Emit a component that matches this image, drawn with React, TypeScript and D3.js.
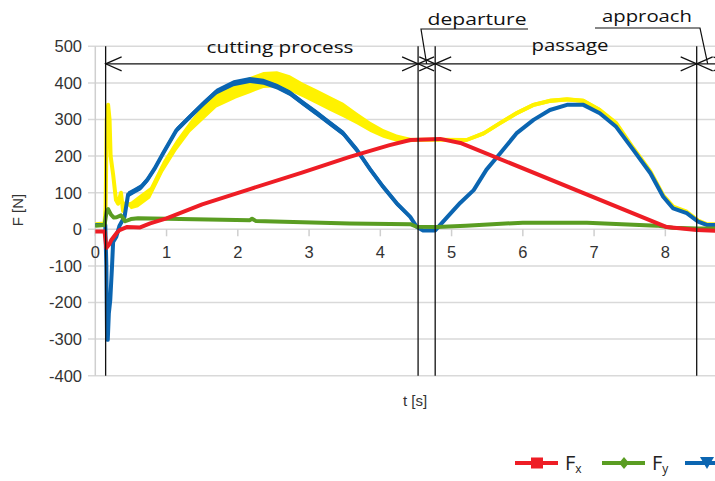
import React from 'react';
import * as d3 from 'd3';

// ---- data ----
const fxT = [0, 0.13, 0.155, 0.2, 0.225, 0.3, 0.34, 0.44, 0.63, 0.77, 1.0, 1.5, 2.17, 2.9, 3.57, 4.13, 4.42, 4.84, 5.14, 8.02, 8.44, 8.9];
const fxV = [-6, -6, -51, -40, -29, -10, -2, 6, 5, 16, 30, 68, 110, 155, 198, 230, 244, 247, 235, 6, -2, -6];

const fyT = [0, 0.13, 0.16, 0.18, 0.22, 0.26, 0.3, 0.36, 0.42, 0.5, 0.6, 1.0, 2.17, 2.2, 2.25, 3.57, 4.42, 4.51, 4.8, 5.2, 6.0, 6.9, 7.88, 8.1, 8.44, 8.9];
const fyV = [10, 12, 50, 55, 40, 32, 33, 38, 22, 28, 30, 29, 25, 29, 23, 16, 14, 7, 6, 10, 18, 18, 10, 4, 2, 2];

const fzT = [0, 0.14, 0.155, 0.165, 0.175, 0.19, 0.21, 0.235, 0.25, 0.295, 0.34, 0.41, 0.46, 0.55, 0.64, 0.73, 0.83, 0.95, 1.14, 1.33, 1.52, 1.70, 1.94, 2.17, 2.36, 2.55, 2.73, 2.92, 3.11, 3.29, 3.48, 3.67, 3.86, 4.04, 4.23, 4.42, 4.51, 4.6, 4.77, 4.84, 5.12, 5.31, 5.49, 5.68, 5.91, 6.15, 6.38, 6.62, 6.85, 7.08, 7.31, 7.55, 7.79, 7.97, 8.11, 8.30, 8.46, 8.58, 8.9];
const fzV = [12, 12, -100, -302, -302, -230, -193, -100, -35, -20, 10, 34, 95, 105, 115, 135, 165, 207, 271, 308, 344, 376, 399, 408, 403, 390, 372, 344, 317, 290, 262, 217, 163, 116, 71, 34, 7, -3, -3, 12, 72, 107, 163, 207, 262, 299, 326, 340, 340, 317, 280, 217, 153, 89, 57, 44, 21, 12, 12];
const fzNoise = [0, 0, 0, 0, 0, 0, 0, 0, 0, 4, 4, 6, 8, 8, 8, 8, 8, 8, 8, 8, 8, 8, 8, 8, 8, 8, 8, 8, 8, 8, 8, 8, 8, 8, 7, 5, 3, 0, 0, 0, 2, 2, 2, 2, 2, 2, 2, 2, 2, 2, 2, 2, 2, 2, 2, 2, 2, 2, 2];

const fT = [0, 0.13, 0.145, 0.16, 0.18, 0.2, 0.215, 0.25, 0.29, 0.32, 0.36, 0.39, 0.43, 0.5, 0.6, 0.77, 0.95, 1.14, 1.33, 1.52, 1.70, 1.98, 2.17, 2.36, 2.55, 2.73, 2.92, 3.11, 3.29, 3.48, 3.67, 3.86, 4.04, 4.23, 4.42, 4.6, 4.84, 5.21, 5.45, 5.68, 5.91, 6.15, 6.38, 6.62, 6.85, 7.08, 7.31, 7.55, 7.79, 7.97, 8.11, 8.30, 8.46, 8.58, 8.9];
const fV = [14, 16, 60, 300, 340, 300, 200, 150, 80, 70, 100, 50, 72, 65, 75, 100, 171, 230, 280, 320, 353, 380, 394, 408, 410, 399, 380, 362, 344, 326, 303, 280, 262, 249, 244, 245, 245, 244, 262, 290, 317, 340, 351, 355, 351, 326, 290, 222, 158, 93, 62, 48, 24, 14, 13];
const fNoise = [0, 0, 0, 0, 0, 0, 0, 0, 0, 0, 0, 0, 0, 10, 15, 15, 15, 15, 15, 20, 20, 22, 22, 22, 22, 22, 20, 20, 20, 20, 16, 14, 12, 10, 6, 3, 3, 5, 6, 6, 6, 6, 6, 6, 6, 6, 5, 4, 4, 4, 4, 3, 2, 2, 2];

const xTicks = [0, 1, 2, 3, 4, 5, 6, 7, 8];
const yTicks = [-400, -300, -200, -100, 0, 100, 200, 300, 400, 500];

const phaseLabels = ['cutting process', 'departure', 'passage', 'approach'];
const phaseBounds = [0.145, 4.53, 4.77, 8.44, 8.9];

const legendNames = ['F', 'F', 'F', 'F'];
const legendSubs = ['x', 'y', 'z', ''];

const COLORS = { fx: '#ee1d25', fy: '#5a9d22', fz: '#0b65b1', f: '#fff200' };

const WIDTH = 715;
const HEIGHT = 481;

export default function App() {
  const x = d3.scaleLinear().domain([0, 9]).range([95.3, 736.6]);
  const y = d3.scaleLinear().domain([-400, 500]).range([375.7, 46.3]);

  const mkLine = (t: number[]) =>
    d3.line<number>().x((_, i) => x(t[i])).y((d) => y(d));
  const mkBand = (t: number[], n: number[]) =>
    d3.area<number>().x((_, i) => x(t[i])).y0((d, i) => y(d - n[i])).y1((d, i) => y(d + n[i]));

  const arrowY = y(452);
  const head = 16;
  const hw = 7;

  const labelPos = [
    { x: 280, y: 53, len: 147 },
    { x: 477, y: 25, len: 99 },
    { x: 570, y: 51, len: 77 },
    { x: 647, y: 22, len: 90 },
  ];

  const legendX = [515, 602, 685, 770];
  const legendColors = [COLORS.fx, COLORS.fy, COLORS.fz, COLORS.f];
  const legendY = 463;

  const marker = (i: number, cx: number, cy: number) => {
    const c = legendColors[i];
    if (i === 0) return <rect x={cx - 6} y={cy - 5.5} width={12} height={11} fill={c} />;
    if (i === 1) return <path d={`M${cx},${cy - 6}L${cx + 5},${cy}L${cx},${cy + 6}L${cx - 5},${cy}Z`} fill={c} />;
    if (i === 2) return <path d={`M${cx - 7},${cy - 6}L${cx + 7},${cy - 6}L${cx},${cy + 6}Z`} fill={c} />;
    return <path d={`M${cx - 7},${cy + 6}L${cx + 7},${cy + 6}L${cx},${cy - 6}Z`} fill={c} />;
  };

  return (
    <svg width={WIDTH} height={HEIGHT} style={{ position: 'absolute', left: 0, top: 0, background: '#fff' }}>
      <rect width={WIDTH} height={HEIGHT} fill="#fff" />
      {/* grid */}
      {yTicks.map((v) => (
        <line key={'g' + v} x1={88} x2={x(9)} y1={y(v)} y2={y(v)} stroke="#d9d9d9" strokeWidth={1.5} />
      ))}
      <line x1={x(0)} x2={x(0)} y1={y(500)} y2={y(-400)} stroke="#cfcfcf" strokeWidth={1.5} />
      {xTicks.map((t) => (
        <line key={'xt' + t} x1={x(t)} x2={x(t)} y1={y(0)} y2={y(0) + 7} stroke="#cfcfcf" strokeWidth={1.5} />
      ))}
      {yTicks.map((v) => (
        <text key={'yl' + v} x={82} y={y(v)} dy="0.36em" textAnchor="end" fontFamily="Liberation Sans, Arial, sans-serif" fontSize={16.5} fill="#333">
          {v}
        </text>
      ))}
      {xTicks.map((t) => (
        <text key={'xl' + t} x={x(t)} y={258} textAnchor="middle" fontFamily="Liberation Sans, Arial, sans-serif" fontSize={16.5} fill="#333">
          {t}
        </text>
      ))}
      <text transform="translate(23,210) rotate(-90)" textAnchor="middle" fontFamily="Liberation Sans, Arial, sans-serif" fontSize={15} fill="#333">
        F [N]
      </text>
      <text x={415} y={406} textAnchor="middle" fontFamily="Liberation Sans, Arial, sans-serif" fontSize={15} fill="#333">
        t [s]
      </text>

      {/* series */}
      <path d={mkBand(fT, fNoise)(fV) || ''} fill={COLORS.f} />
      <path d={mkLine(fT)(fV) || ''} fill="none" stroke={COLORS.f} strokeWidth={4} strokeLinejoin="round" />
      <path d={mkBand(fzT, fzNoise)(fzV) || ''} fill={COLORS.fz} />
      <path d={mkLine(fzT)(fzV) || ''} fill="none" stroke={COLORS.fz} strokeWidth={4} strokeLinejoin="round" />
      <path d={mkLine(fyT)(fyV) || ''} fill="none" stroke={COLORS.fy} strokeWidth={4} strokeLinejoin="round" />
      <path d={mkLine(fxT)(fxV) || ''} fill="none" stroke={COLORS.fx} strokeWidth={4} strokeLinejoin="round" />

      {/* phase annotations */}
      {phaseBounds.slice(0, 4).map((t, i) => (
        <line key={'pv' + i} x1={x(t)} x2={x(t)} y1={y(500)} y2={y(-400)} stroke="#111" strokeWidth={1.3} />
      ))}
      {phaseLabels.map((lab, i) => {
        const a = x(phaseBounds[i]);
        const b = x(phaseBounds[i + 1]);
        return (
          <g key={'pa' + i} stroke="#111" strokeWidth={1.2} fill="none">
            <line x1={a} x2={b} y1={arrowY} y2={arrowY} />
            <path d={`M${a + head},${arrowY - hw}L${a},${arrowY}L${a + head},${arrowY + hw}`} />
            <path d={`M${b - head},${arrowY - hw}L${b},${arrowY}L${b - head},${arrowY + hw}`} />
          </g>
        );
      })}
      {/* leaders for short phases */}
      <g stroke="#111" strokeWidth={1.2} fill="none">
        <path d={`M528,29L421,29L${(x(phaseBounds[1]) + x(phaseBounds[2])) / 2},${arrowY}`} />
        <path d={`M595,28L700,28L${x(phaseBounds[3]) + 11},${arrowY}`} />
      </g>
      {phaseLabels.map((lab, i) => (
        <text key={'pl' + i} x={labelPos[i].x} y={labelPos[i].y} textAnchor="middle" fontFamily="Open Sans, Noto Sans, sans-serif" fontSize={17}
          textLength={labelPos[i].len} lengthAdjust="spacingAndGlyphs" fill="#111">
          {lab}
        </text>
      ))}

      {/* legend (cropped at the right edge as in the reference) */}
      {legendNames.map((n, i) => {
        const lx = legendX[i];
        const textX = lx + 50;
        return (
          <g key={'lg' + i}>
            <line x1={lx} x2={lx + 43} y1={legendY} y2={legendY} stroke={legendColors[i]} strokeWidth={4} />
            {marker(i, lx + 22, legendY)}
            {textX + 20 < WIDTH ? (
              <text x={textX} y={legendY + 7} fontFamily="Open Sans, Noto Sans, sans-serif" fontSize={20} fill="#222">
                {n}
                <tspan fontSize={12} dy={3}>{legendSubs[i]}</tspan>
              </text>
            ) : null}
          </g>
        );
      })}
    </svg>
  );
}
